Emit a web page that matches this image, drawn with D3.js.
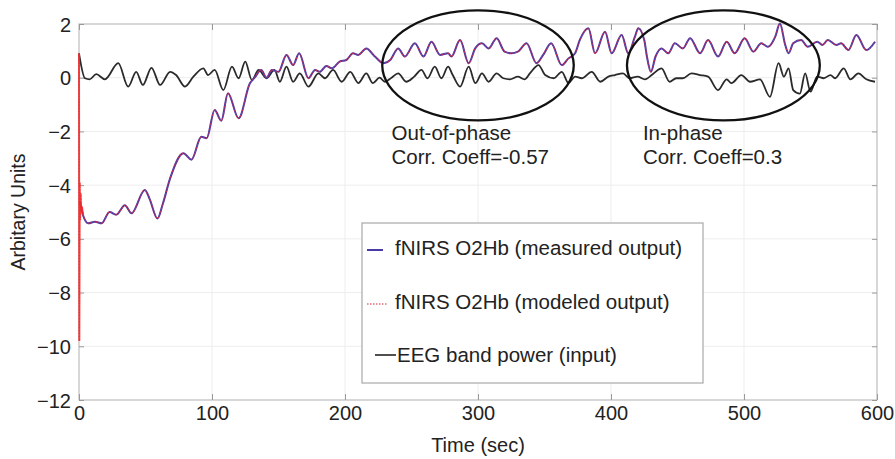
<!DOCTYPE html>
<html>
<head>
<meta charset="utf-8">
<script src="https://cdn.jsdelivr.net/npm/d3@7"></script>
<style>
  body { margin: 0; background: #fff; }
  text { font-family: "Liberation Sans", Arial, sans-serif; fill: #222; }
</style>
</head>
<body>
<svg id="chart" width="895" height="459"></svg>
<script>
// EEG band power (input)
const eegTimes = [0,4.5,8,13,19.5,29.5,37,43,48,54.5,61,68.5,73,79.7,86,93.5,97,102,108.5,115,120,125,130,135,141,147,151,156,161,166,172.5,180,185,191,197.5,204,210,216,221,226,230,235,240,246,252,257.5,262,267.5,272.5,277.5,281,286.5,293,298,303,308,314,319,324,330,335,339,345.5,350.5,357,363,368,373,378,385.5,392,398,403,409,414,420,425.5,432,438,444,449,454,460.5,467,473,480.5,487,490.5,498,504.5,512,519.5,526,530,533.5,537,542,546,550,555,560,565,568.5,575,580,586,592,598.5]
const eegValues = [0.91,-0.02,-0.06,0.13,-0.06,0.54,-0.33,0.22,-0.27,0.37,-0.27,0.22,0.1,-0.33,0.04,0.35,0.1,0.29,-0.46,0.41,-0.02,0.6,-0.09,0.29,-0.02,0.29,-0.15,0.41,-0.15,0.16,-0.33,0.16,-0.02,0.29,-0.15,0.22,-0.2,0.16,-0.2,0,-0.15,0,0.16,-0.15,0.04,0.29,-0.02,0.41,-0.02,0.41,0.1,-0.33,0.41,-0.2,0.16,-0.15,0.16,-0.02,-0.06,0.04,-0.06,0.16,0.47,0.1,-0.02,0.22,-0.2,0.04,-0.02,0.22,-0.15,0.04,0.1,0.16,-0.02,0.04,-0.06,0.16,0.35,-0.15,-0.02,-0.02,0.16,0.1,0.04,-0.46,-0.06,-0.2,0.1,-0.15,-0.06,-0.71,0.54,0.04,0.35,-0.46,-0.59,0.16,-0.52,0.04,-0.02,0.1,-0.02,0.35,-0.06,0.16,-0.06,-0.15]

// fNIRS O2Hb (measured output)
const measTimes = [0.75,3,7,12,17,23,28,34.5,39.5,49.5,53,59,63,68.5,78.5,84.5,92,96,102,107,112,120,128.5,132,137,141,145,150,156,161,165.5,172.5,177.5,181,186,190,196,201,206,210,216,222.5,229,234,240,245,252.5,259,265,271.5,277.5,280,286.5,293,298,303,308,314,320,325,330,336.5,344,349,355,363,368,373,376.5,383,388,395.5,400.5,408,413,418,420.5,425,427,430,433.5,438,443,448,454,459.5,467,473,480.5,487,493,500.5,507,513,518,523.5,527,531,533.5,537,543,548,555,559,563,569.5,573,578.5,584.5,592,598.5]
const measValues = [-4.62,-5.11,-5.42,-5.36,-5.42,-5.0,-5.1,-4.75,-5.05,-4.18,-4.5,-5.24,-4.7,-3.75,-2.81,-3.05,-2.2,-2.25,-1.2,-1.6,-0.58,-1.51,-0.21,0,0.29,0,0.29,0.22,0.85,0.47,0.91,-0.02,0.29,0.22,0.44,0.35,0.6,0.66,0.91,0.85,1.09,0.79,0.54,0.66,1.09,0.79,1.28,0.79,1.34,0.85,0.91,0.79,1.4,0.54,1.1,1.28,1.09,1.47,0.97,0.91,0.97,1.28,0.54,0.85,1.28,0.47,0.72,0.91,1.4,1.84,0.91,1.71,0.91,1.59,0.91,1.53,1.84,1.4,0.79,0.22,0.79,1.09,0.91,1.28,1.09,1.47,0.91,1.4,0.79,1.34,0.91,1.47,0.97,1.28,1.15,1.53,2.02,1.22,0.91,1.28,1.4,1.15,1.34,1.22,1.4,1.22,1.28,1.03,1.59,1.03,1.34]

// fNIRS O2Hb (modeled output): onset transient, afterwards it lies on the measured trace
const modelOnsetTimes = [0,0.25,0.5,0.8,1.2,1.6,2.2,3]
const modelOnsetValues = [0.9,-9.8,-3.9,-5.3,-4.3,-5.0,-4.8,-5.11]

const xTicks = [0,100,200,300,400,500,600]
const yTicks = [2,0,-2,-4,-6,-8,-10,-12]

const legendLabels = ["fNIRS O2Hb (measured output)", "fNIRS O2Hb (modeled output)", "EEG band power (input)"]

const notes = [
    {t: 235, lines: ["Out-of-phase", "Corr. Coeff=-0.57"], ell: [300, 0.46, 72, 2.05]},
    {t: 424, lines: ["In-phase", "Corr. Coeff=0.3"], ell: [484.5, 0.46, 72.5, 2.05]}
]

const eeg = eegTimes.map((t, i) => ({t: t, v: eegValues[i]}))
const measured = measTimes.map((t, i) => ({t: t, v: measValues[i]}))
const onset = modelOnsetTimes.map((t, i) => ({t: t, v: modelOnsetValues[i]}))
const modeled = onset.concat(measured.filter(d => d.t > 3))

const svg = d3.select("#chart")
const plotL = 79, plotR = 877, plotT = 24, plotB = 400

const x = d3.scaleLinear().domain([0, 600]).range([plotL, plotR])
const y = d3.scaleLinear().domain([-12, 2]).range([plotB, plotT])

// grid
svg.append("g").selectAll("line")
    .data(xTicks.slice(1, -1))
    .join("line")
    .attr("x1", d => x(d)).attr("x2", d => x(d))
    .attr("y1", plotT).attr("y2", plotB)
    .style("stroke", "#ededed")

svg.append("g").selectAll("line")
    .data(yTicks.slice(1, -1))
    .join("line")
    .attr("x1", plotL).attr("x2", plotR)
    .attr("y1", d => y(d)).attr("y2", d => y(d))
    .style("stroke", "#ededed")

// frame
svg.append("rect")
    .attr("x", plotL).attr("y", plotT)
    .attr("width", plotR - plotL).attr("height", plotB - plotT)
    .style("fill", "none").style("stroke", "#bdbdbd").style("stroke-width", 1.2)

// axes, ticks pointing inward
const xAxis = svg.append("g").attr("transform", `translate(0,${plotB})`)
    .call(d3.axisBottom(x).tickValues(xTicks).tickSize(-6).tickPadding(6))
const xAxisTop = svg.append("g").attr("transform", `translate(0,${plotT})`)
    .call(d3.axisTop(x).tickValues(xTicks).tickSize(-6).tickFormat(""))
const yAxis = svg.append("g").attr("transform", `translate(${plotL},0)`)
    .call(d3.axisLeft(y).tickValues(yTicks).tickSize(-5).tickPadding(8))
const yAxisRight = svg.append("g").attr("transform", `translate(${plotR},0)`)
    .call(d3.axisRight(y).tickValues(yTicks).tickSize(-5).tickFormat(""))

for (const ax of [xAxis, xAxisTop, yAxis, yAxisRight]) {
    ax.select(".domain").remove()
    ax.selectAll(".tick line").style("stroke", "#9a9a9a")
    ax.selectAll(".tick text")
        .style("font-family", "'Liberation Sans', Arial, sans-serif")
        .style("font-size", "20px")
        .style("fill", "#222")
}
yAxis.selectAll(".tick text").attr("dy", "0.35em")

// lines
const line = d3.line()
    .x(d => x(d.t))
    .y(d => y(d.v))
    .curve(d3.curveMonotoneX)

svg.append("path")
    .datum(eeg)
    .attr("d", line)
    .style("fill", "none")
    .style("stroke", "#2a2a2a")
    .style("stroke-width", 1.8)

svg.append("path")
    .datum(measured)
    .attr("d", line)
    .style("fill", "none")
    .style("stroke", "#4a3aa8")
    .style("stroke-width", 2)

svg.append("path")
    .datum(modeled)
    .attr("d", line)
    .style("fill", "none")
    .style("stroke", "#e8303c")
    .style("stroke-width", 1.3)
    .style("stroke-dasharray", "1.5,1.5")
    .style("opacity", 0.75)

// the onset transient of the model shows as a solid red stroke
svg.append("path")
    .datum(onset)
    .attr("d", d3.line().x(d => x(d.t)).y(d => y(d.v)))
    .style("fill", "none")
    .style("stroke", "#ee2a2a")
    .style("stroke-width", 2)
    .style("opacity", 0.85)

// ellipses + notes
for (const n of notes) {
    const [cx, cy, hw, hh] = n.ell
    svg.append("ellipse")
        .attr("cx", x(cx)).attr("cy", y(cy))
        .attr("rx", x(cx + hw) - x(cx)).attr("ry", y(cy - hh) - y(cy))
        .style("fill", "none").style("stroke", "#111").style("stroke-width", 2.3)
    n.lines.forEach((s, i) => {
        svg.append("text")
            .attr("x", x(n.t)).attr("y", 140 + i * 24)
            .style("font-size", "20.5px")
            .text(s)
    })
}

// legend
const lg = svg.append("g")
lg.append("rect")
    .attr("x", 362).attr("y", 223).attr("width", 341).attr("height", 160)
    .style("fill", "#fff").style("stroke", "#a8a8a8").style("stroke-width", 1.2)

const legendY = [248, 302, 355]
lg.append("line").attr("x1", 367).attr("x2", 383).attr("y1", legendY[0] + 2).attr("y2", legendY[0] + 2)
    .style("stroke", "#4a3aa8").style("stroke-width", 2)
lg.append("line").attr("x1", 367).attr("x2", 388).attr("y1", legendY[1] + 2).attr("y2", legendY[1] + 2)
    .style("stroke", "#e8707a").style("stroke-width", 1.5).style("stroke-dasharray", "1.5,1.5")
lg.append("line").attr("x1", 375).attr("x2", 396).attr("y1", legendY[2]).attr("y2", legendY[2])
    .style("stroke", "#222").style("stroke-width", 1.6)

legendLabels.forEach((s, i) => {
    lg.append("text")
        .attr("x", i < 2 ? 395 : 397).attr("y", legendY[i] + 7)
        .style("font-size", "20.5px")
        .text(s)
})

// axis titles
svg.append("text")
    .attr("x", (plotL + plotR) / 2).attr("y", 452)
    .attr("text-anchor", "middle")
    .style("font-size", "20px")
    .text("Time (sec)")

svg.append("text")
    .attr("transform", `translate(25,${(plotT + plotB) / 2}) rotate(-90)`)
    .attr("text-anchor", "middle")
    .style("font-size", "19.5px")
    .text("Arbitary Units")
</script>
</body>
</html>
